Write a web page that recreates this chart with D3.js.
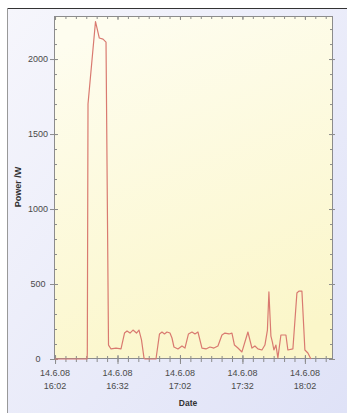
<!DOCTYPE html>
<html><head><meta charset="utf-8">
<script src="https://cdn.jsdelivr.net/npm/d3@7"></script>
<style>body{margin:0;background:#fff}svg{display:block}</style>
</head><body>
<script>
// ---- data ----
const times = ["16:02:00","16:17:22","16:17:30","16:17:50","16:21:26","16:23:16","16:25:02","16:26:29","16:27:41","16:28:53","16:31:17","16:33:41","16:35:22","16:36:34","16:38:00","16:39:26","16:41:07","16:42:19","16:43:31","16:44:43","16:45:12","16:50:29","16:52:10","16:53:22","16:54:34","16:55:46","16:57:12","16:58:10","16:59:07","17:01:02","17:02:58","17:04:24","17:06:05","17:07:46","17:09:12","17:10:38","17:12:34","17:14:29","17:16:24","17:18:19","17:20:14","17:22:10","17:23:36","17:25:31","17:26:58","17:28:10","17:29:50","17:31:46","17:34:38","17:36:34","17:38:00","17:39:26","17:41:22","17:42:48","17:44:00","17:44:43","17:45:41","17:46:24","17:47:07","17:48:05","17:49:02","17:50:29","17:52:53","17:53:50","17:56:14","17:58:10","17:59:07","18:00:34","18:02:00","18:03:26","18:04:53"];
const power = [0,0,40,1700,2250,2140,2133,2113,93,67,73,67,173,187,173,193,173,193,127,7,0,0,167,180,167,180,173,140,80,67,87,73,167,180,167,180,73,67,80,73,87,160,173,167,173,93,73,47,180,73,87,67,60,93,193,447,153,113,60,93,7,160,160,60,67,440,453,453,60,40,0];
const majorTicks = ["16:02","16:32","17:02","17:32","18:02"];
const dateLabel = "14.6.08";
const yMajor = [0,500,1000,1500,2000];
const xTitle = "Date";
const yTitle = "Power /W";

const W = 347, H = 413;
const parse = d3.timeParse("%H:%M:%S");
const pm = d3.timeParse("%H:%M");
const data = times.map((t,i)=>({t:parse(t), v:power[i]}));

const L = 54, R = 333, T = 16, B = 359;
const x = d3.scaleTime().domain([parse("16:01:30"), parse("18:15:30")]).range([L, R]);
const y = d3.scaleLinear().domain([0, 2287]).range([B, T]);

const svg = d3.select("body").append("svg").attr("width", W).attr("height", H);
const defs = svg.append("defs");
const bg = defs.append("linearGradient").attr("id","bg").attr("x1","0").attr("y1","0").attr("x2","1").attr("y2","1");
bg.append("stop").attr("offset","0").attr("stop-color","#f6f6fc");
bg.append("stop").attr("offset","1").attr("stop-color","#dfe2f7");
const pg = defs.append("linearGradient").attr("id","pg").attr("x1","0.3").attr("y1","0").attr("x2","0.6").attr("y2","1");
pg.append("stop").attr("offset","0").attr("stop-color","#fefdef");
pg.append("stop").attr("offset","1").attr("stop-color","#fbf6c9");

svg.append("rect").attr("x",7).attr("y",8).attr("width",W-7).attr("height",H-8).attr("fill","url(#bg)");
svg.append("line").attr("x1",7).attr("x2",W).attr("y1",8.5).attr("y2",8.5).attr("stroke","#333").attr("stroke-width",1.2);
svg.append("line").attr("x1",7.5).attr("x2",7.5).attr("y1",8).attr("y2",H).attr("stroke","#999");

svg.append("rect").attr("x",L).attr("y",T).attr("width",R-L).attr("height",B-T).attr("fill","url(#pg)");

const axisCol = "#8c8c8c";
const minorX = d3.timeMinute.every(1).range(parse("16:02:00"), parse("18:15:00")).filter(d => ((d.getHours()*60+d.getMinutes()) - (16*60+2)) % 5 === 0);
const minorY = d3.range(0, 2287, 100);

const g = svg.append("g");
g.append("g").attr("transform",`translate(0,${B})`).call(d3.axisBottom(x).tickValues(minorX).tickSize(3).tickFormat("")).call(s=>{s.select(".domain").remove();s.selectAll("line").attr("stroke",axisCol).attr("y1",-3);});
g.append("g").attr("transform",`translate(0,${T})`).call(d3.axisTop(x).tickValues(minorX).tickSize(3).tickFormat("")).call(s=>{s.select(".domain").remove();s.selectAll("line").attr("stroke",axisCol).attr("y1",0).attr("y2",3);});
g.append("g").attr("transform",`translate(0,${B})`).call(d3.axisBottom(x).tickValues(majorTicks.map(pm)).tickSize(5).tickFormat("")).call(s=>{s.select(".domain").remove();s.selectAll("line").attr("stroke",axisCol).attr("y1",-4);});
g.append("g").attr("transform",`translate(0,${T})`).call(d3.axisTop(x).tickValues(majorTicks.map(pm)).tickSize(4).tickFormat("")).call(s=>{s.select(".domain").remove();s.selectAll("line").attr("stroke",axisCol).attr("y1",0).attr("y2",4);});
g.append("g").attr("transform",`translate(${L},0)`).call(d3.axisRight(y).tickValues(minorY).tickSize(3).tickFormat("")).call(s=>{s.select(".domain").remove();s.selectAll("line").attr("stroke",axisCol);});
g.append("g").attr("transform",`translate(${R},0)`).call(d3.axisLeft(y).tickValues(minorY).tickSize(3).tickFormat("")).call(s=>{s.select(".domain").remove();s.selectAll("line").attr("stroke",axisCol);});
g.append("g").attr("transform",`translate(${L},0)`).call(d3.axisLeft(y).tickValues(yMajor).tickSize(4).tickFormat(d3.format("d")))
 .call(s=>{s.select(".domain").remove();s.selectAll("line").attr("stroke",axisCol).attr("x2",-4).attr("x1",4);
   s.selectAll("text").attr("x",-16).attr("text-anchor","middle").attr("fill","#4a4a4a").style("font","9px 'Liberation Sans', Arial, sans-serif");});
g.append("g").attr("transform",`translate(${R},0)`).call(d3.axisRight(y).tickValues(yMajor).tickSize(4).tickFormat("")).call(s=>{s.select(".domain").remove();s.selectAll("line").attr("stroke",axisCol).attr("x1",-4).attr("x2",2);});

svg.append("rect").attr("x",L+0.5).attr("y",T+0.5).attr("width",R-L-1).attr("height",B-T-1).attr("fill","none").attr("stroke",axisCol).attr("stroke-width",1);

const xl = svg.append("g").style("font","9px 'Liberation Sans', Arial, sans-serif").attr("fill","#4a4a4a").attr("text-anchor","middle");
majorTicks.forEach(m=>{
  const px = x(pm(m));
  xl.append("text").attr("x",px).attr("y",376).text(dateLabel);
  xl.append("text").attr("x",px).attr("y",389).text(m);
});

const line = d3.line().x(d=>x(d.t)).y(d=>y(d.v));
svg.append("path").datum(data).attr("d",line).attr("fill","none").attr("stroke","#d97a70").attr("stroke-width",1.2).attr("stroke-linejoin","round");

svg.append("text").attr("x",188).attr("y",406).attr("text-anchor","middle").style("font","bold 8.5px 'Liberation Sans', Arial, sans-serif").attr("fill","#333").text(xTitle);
svg.append("text").attr("transform","translate(21,187) rotate(-90)").attr("text-anchor","middle").style("font","bold 9px 'Liberation Sans', Arial, sans-serif").attr("fill","#333").text(yTitle);
</script>
</body></html>
